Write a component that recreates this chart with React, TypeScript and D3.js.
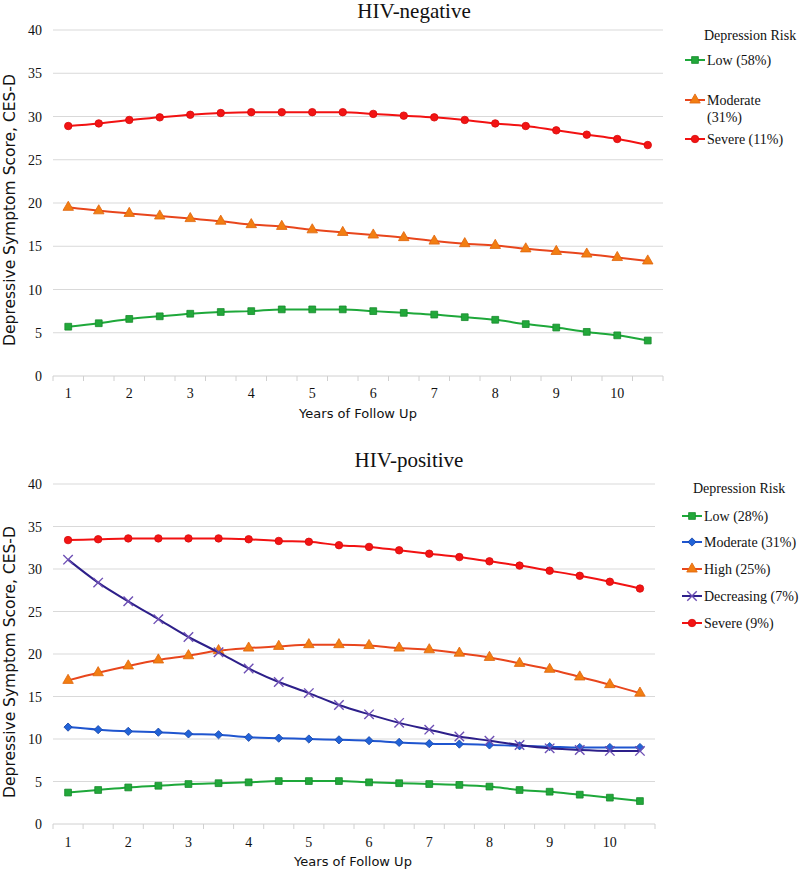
import React from "react";
import * as d3 from "d3";

const categories = ["1","1.5","2","2.5","3","3.5","4","4.5","5","5.5","6","6.5","7","7.5","8","8.5","9","9.5","10","10.5"];
const yTicks = [0, 5, 10, 15, 20, 25, 30, 35, 40];

// HIV-negative
const negLow = [5.7, 6.1, 6.6, 6.9, 7.2, 7.4, 7.5, 7.7, 7.7, 7.7, 7.5, 7.3, 7.1, 6.8, 6.5, 6.0, 5.6, 5.1, 4.7, 4.1];
const negModerate = [19.5, 19.1, 18.8, 18.5, 18.2, 17.9, 17.5, 17.3, 16.9, 16.6, 16.3, 16.0, 15.6, 15.3, 15.1, 14.7, 14.4, 14.1, 13.7, 13.3];
const negSevere = [28.9, 29.2, 29.6, 29.9, 30.2, 30.4, 30.5, 30.5, 30.5, 30.5, 30.3, 30.1, 29.9, 29.6, 29.2, 28.9, 28.4, 27.9, 27.4, 26.7];

// HIV-positive
const posLow = [3.7, 4.0, 4.3, 4.5, 4.7, 4.8, 4.9, 5.05, 5.05, 5.05, 4.9, 4.8, 4.7, 4.6, 4.4, 4.0, 3.8, 3.45, 3.1, 2.7];
const posModerate = [11.4, 11.1, 10.9, 10.8, 10.6, 10.5, 10.2, 10.1, 10.0, 9.9, 9.8, 9.6, 9.45, 9.4, 9.3, 9.2, 9.1, 9.0, 9.0, 9.0];
const posHigh = [16.9, 17.8, 18.6, 19.3, 19.8, 20.4, 20.7, 20.9, 21.1, 21.1, 21.0, 20.7, 20.5, 20.1, 19.6, 18.9, 18.2, 17.3, 16.4, 15.4];
const posDecreasing = [31.1, 28.4, 26.2, 24.1, 22.0, 20.2, 18.3, 16.7, 15.4, 14.0, 12.9, 11.9, 11.1, 10.3, 9.8, 9.3, 8.9, 8.7, 8.6, 8.6];
const posSevere = [33.4, 33.5, 33.6, 33.6, 33.6, 33.6, 33.5, 33.3, 33.2, 32.8, 32.6, 32.2, 31.8, 31.4, 30.9, 30.4, 29.8, 29.2, 28.5, 27.7];

const negLabels = ["Low (58%)", "Moderate", "Severe (11%)"];
const posLabels = ["Low (28%)", "Moderate (31%)", "High (25%)", "Decreasing (7%)", "Severe (9%)"];

type Marker = "square" | "triangle" | "circle" | "diamond" | "x";
interface Series { name: string; values: number[]; line: string; fill: string; stroke: string; marker: Marker; }

const GREEN = { line: "#1ea83a", fill: "#22a83a", stroke: "#178a2c" };
const ORANGE = { line: "#e8461c", fill: "#f27e12", stroke: "#e0650c" };
const RED = { line: "#f21212", fill: "#f21414", stroke: "#d80a0a" };
const BLUE = { line: "#1f55cf", fill: "#2163d8", stroke: "#1844a8" };
const PURPLE = { line: "#2d1f8a", fill: "#6d4fb4", stroke: "#6a4cb0" };

const SERIF = '"Liberation Serif", "Times New Roman", serif';
const SANS = '"DejaVu Sans", sans-serif';

const negSeries: Series[] = [
  { name: negLabels[0], values: negLow, ...GREEN, marker: "square" },
  { name: negLabels[1], values: negModerate, ...ORANGE, marker: "triangle" },
  { name: negLabels[2], values: negSevere, ...RED, marker: "circle" },
];
const posSeries: Series[] = [
  { name: posLabels[0], values: posLow, ...GREEN, marker: "square" },
  { name: posLabels[1], values: posModerate, ...BLUE, marker: "diamond" },
  { name: posLabels[2], values: posHigh, ...ORANGE, marker: "triangle" },
  { name: posLabels[3], values: posDecreasing, ...PURPLE, marker: "x" },
  { name: posLabels[4], values: posSevere, ...RED, marker: "circle" },
];

function MarkerShape({ m, x, y, s }: { m: Marker; x: number; y: number; s: Series }) {
  let path = "";
  let transform = `translate(${x},${y})`;
  if (m === "square") path = d3.symbol(d3.symbolSquare, 46)()!;
  else if (m === "circle") path = d3.symbol(d3.symbolCircle, 44)()!;
  else if (m === "triangle") path = d3.symbol(d3.symbolTriangle, 48)()!;
  else if (m === "diamond") { path = d3.symbol(d3.symbolSquare, 34)()!; transform += " rotate(45)"; }
  else path = d3.symbol(d3.symbolX, 60)()!;
  if (m === "x") return <path d={path} transform={transform} fill="none" stroke={s.fill} strokeWidth={1.4} />;
  return <path d={path} transform={transform} fill={s.fill} stroke={s.stroke} strokeWidth={0.8} />;
}

interface PanelProps {
  title: string; series: Series[]; top: number; bottom: number; left: number; right: number;
  titleX: number; titleY: number; xLabelX: number; xLabelY: number; tickY: number; yLabelCY: number;
  legendX: number; legendTitleX: number; legendTitleY: number; legendYs: number[]; extraLine?: { text: string; y: number };
}

function Panel(p: PanelProps) {
  const x = d3.scaleBand<string>().domain(categories).range([p.left, p.right]);
  const y = d3.scaleLinear().domain([0, 40]).range([p.bottom, p.top]);
  const cx = (c: string) => (x(c) ?? 0) + x.bandwidth() / 2;
  const line = d3.line<number>().x((_, i) => cx(categories[i])).y(v => y(v)).curve(d3.curveMonotoneX);
  const boundaries = categories.map(c => x(c) ?? 0).concat([p.right]);
  return (
    <g>
      <text x={p.titleX} y={p.titleY} textAnchor="middle" style={{ fontFamily: SERIF }} fontSize={21} fill="#111">{p.title}</text>
      {yTicks.map(t => (
        <g key={t}>
          {t > 0 && <line x1={p.left} x2={p.right} y1={y(t)} y2={y(t)} stroke="#d9d9d9" strokeWidth={1} />}
          <text x={42} y={y(t) + 5} textAnchor="end" style={{ fontFamily: SERIF }} fontSize={14} fill="#111">{t}</text>
        </g>
      ))}
      <line x1={p.left} x2={p.right} y1={y(0)} y2={y(0)} stroke="#d0d0d0" strokeWidth={1} />
      {boundaries.map((b, i) => (
        <line key={i} x1={b} x2={b} y1={y(0)} y2={y(0) + 5} stroke="#d0d0d0" strokeWidth={1} />
      ))}
      {categories.map(c => Number.isInteger(+c) ? (
        <text key={c} x={cx(c)} y={p.tickY} textAnchor="middle" style={{ fontFamily: SERIF }} fontSize={14} fill="#111">{c}</text>
      ) : null)}
      <text x={p.xLabelX} y={p.xLabelY} textAnchor="middle" style={{ fontFamily: SANS }} fontSize={13} fill="#111">Years of Follow Up</text>
      <text transform={`translate(15,${p.yLabelCY}) rotate(-90)`} textAnchor="middle" style={{ fontFamily: SANS }} fontSize={15.5} fill="#111">Depressive Symptom Score, CES-D</text>
      {p.series.map(s => (
        <g key={s.name}>
          <path d={line(s.values) ?? ""} fill="none" stroke={s.line} strokeWidth={2} />
          {s.values.map((v, i) => <MarkerShape key={i} m={s.marker} x={cx(categories[i])} y={y(v)} s={s} />)}
        </g>
      ))}
      <text x={p.legendTitleX} y={p.legendTitleY} style={{ fontFamily: SERIF }} fontSize={14} fill="#111">Depression Risk</text>
      {p.series.map((s, i) => (
        <g key={s.name}>
          <line x1={p.legendX} x2={p.legendX + 20} y1={p.legendYs[i]} y2={p.legendYs[i]} stroke={s.line} strokeWidth={2} />
          <MarkerShape m={s.marker} x={p.legendX + 10} y={p.legendYs[i]} s={s} />
          <text x={p.legendX + 22} y={p.legendYs[i] + 5} style={{ fontFamily: SERIF }} fontSize={14} fill="#111">{s.name}</text>
        </g>
      ))}
      {p.extraLine && <text x={p.legendX + 22} y={p.extraLine.y} style={{ fontFamily: SERIF }} fontSize={14} fill="#111">{p.extraLine.text}</text>}
    </g>
  );
}

export default function App() {
  return (
    <svg width={800} height={871} style={{ position: "absolute", left: 0, top: 0, background: "#fff" }}>
      <rect width={800} height={871} fill="#fff" />
      <Panel title="HIV-negative" series={negSeries} top={30} bottom={376} left={53} right={663}
        titleX={414} titleY={18} xLabelX={358} xLabelY={418} tickY={398} yLabelCY={210}
        legendX={685} legendTitleX={704} legendTitleY={40} legendYs={[60, 100, 139]} extraLine={{ text: "(31%)", y: 122 }} />
      <Panel title="HIV-positive" series={posSeries} top={484} bottom={824} left={53} right={655}
        titleX={409} titleY={467} xLabelX={353} xLabelY={866} tickY={847} yLabelCY={662}
        legendX={682} legendTitleX={693} legendTitleY={493} legendYs={[516, 542, 569, 596, 623]} />
    </svg>
  );
}
